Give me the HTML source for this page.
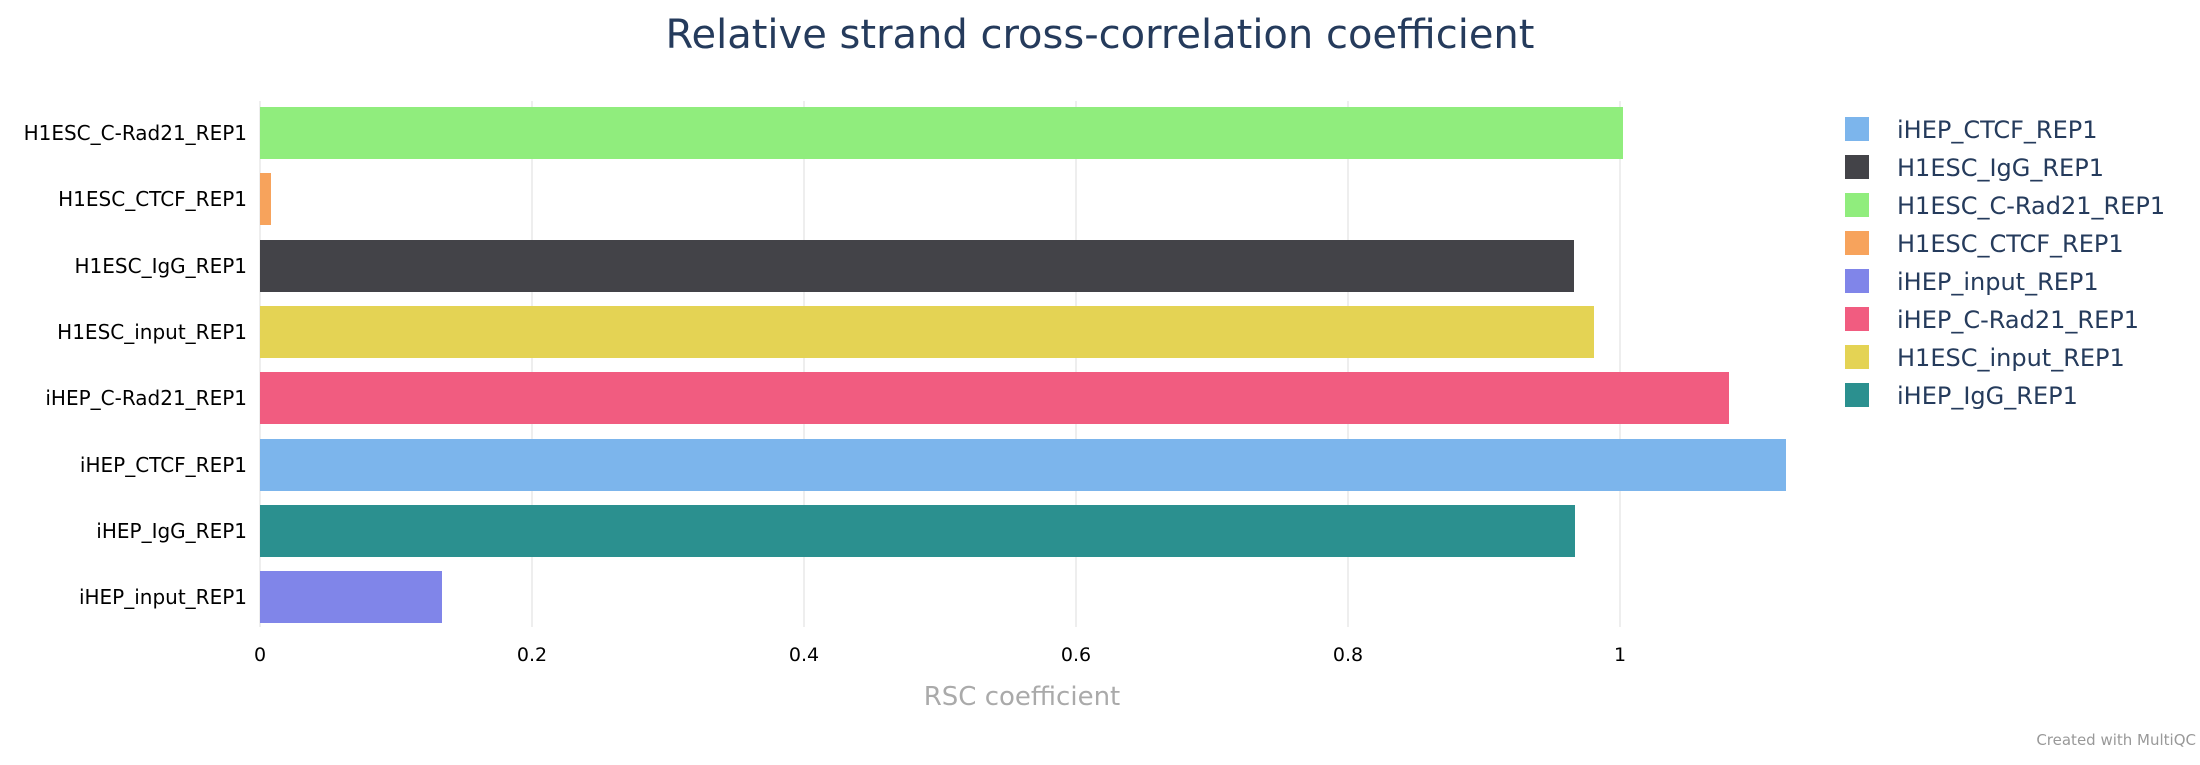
<!DOCTYPE html>
<html><head><style>
body{margin:0;background:#fff;}
svg text{font-family:"DejaVu Sans","Liberation Sans",sans-serif;}
</style></head><body>
<svg width="2200" height="760" xmlns="http://www.w3.org/2000/svg">
<rect width="2200" height="760" fill="#fff"/>
<text x="1100" y="48" text-anchor="middle" font-size="40" fill="#253b5c">Relative strand cross-correlation coefficient</text>
<g stroke="#eeeeee" stroke-width="2">
<line x1="260" y1="101" x2="260" y2="627"/>
<line x1="532" y1="101" x2="532" y2="627"/>
<line x1="804" y1="101" x2="804" y2="627"/>
<line x1="1076" y1="101" x2="1076" y2="627"/>
<line x1="1348" y1="101" x2="1348" y2="627"/>
<line x1="1620" y1="101" x2="1620" y2="627"/>
</g>
<rect x="260" y="107" width="1363" height="52" fill="#90ed7d"/>
<rect x="260" y="173" width="11" height="52" fill="#f7a35c"/>
<rect x="260" y="240" width="1314" height="52" fill="#434348"/>
<rect x="260" y="306" width="1334" height="52" fill="#e4d354"/>
<rect x="260" y="372" width="1469" height="52" fill="#f15c80"/>
<rect x="260" y="439" width="1526" height="52" fill="#7cb5ec"/>
<rect x="260" y="505" width="1315" height="52" fill="#2b908f"/>
<rect x="260" y="571" width="182" height="52" fill="#8085e9"/>
<g font-size="20" fill="#000" text-anchor="end">
<text x="247" y="140">H1ESC_C-Rad21_REP1</text>
<text x="247" y="206">H1ESC_CTCF_REP1</text>
<text x="247" y="273">H1ESC_IgG_REP1</text>
<text x="247" y="339">H1ESC_input_REP1</text>
<text x="247" y="405">iHEP_C-Rad21_REP1</text>
<text x="247" y="472">iHEP_CTCF_REP1</text>
<text x="247" y="538">iHEP_IgG_REP1</text>
<text x="247" y="604">iHEP_input_REP1</text>
</g>
<g font-size="19" fill="#000" text-anchor="middle">
<text x="260" y="661">0</text>
<text x="532" y="661">0.2</text>
<text x="804" y="661">0.4</text>
<text x="1076" y="661">0.6</text>
<text x="1348" y="661">0.8</text>
<text x="1620" y="661">1</text>
</g>
<text x="1022" y="705" text-anchor="middle" font-size="26" fill="#aaaaaa">RSC coefficient</text>
<g font-size="24" fill="#253b5c">
<rect x="1845" y="117" width="24" height="24" fill="#7cb5ec"/><text x="1897" y="138">iHEP_CTCF_REP1</text>
<rect x="1845" y="155" width="24" height="24" fill="#434348"/><text x="1897" y="176">H1ESC_IgG_REP1</text>
<rect x="1845" y="193" width="24" height="24" fill="#90ed7d"/><text x="1897" y="214">H1ESC_C-Rad21_REP1</text>
<rect x="1845" y="231" width="24" height="24" fill="#f7a35c"/><text x="1897" y="252">H1ESC_CTCF_REP1</text>
<rect x="1845" y="269" width="24" height="24" fill="#8085e9"/><text x="1897" y="290">iHEP_input_REP1</text>
<rect x="1845" y="307" width="24" height="24" fill="#f15c80"/><text x="1897" y="328">iHEP_C-Rad21_REP1</text>
<rect x="1845" y="345" width="24" height="24" fill="#e4d354"/><text x="1897" y="366">H1ESC_input_REP1</text>
<rect x="1845" y="383" width="24" height="24" fill="#2b908f"/><text x="1897" y="404">iHEP_IgG_REP1</text>
</g>
<text x="2196" y="745" text-anchor="end" font-size="15" fill="#999">Created with MultiQC</text>
</svg>
</body></html>
